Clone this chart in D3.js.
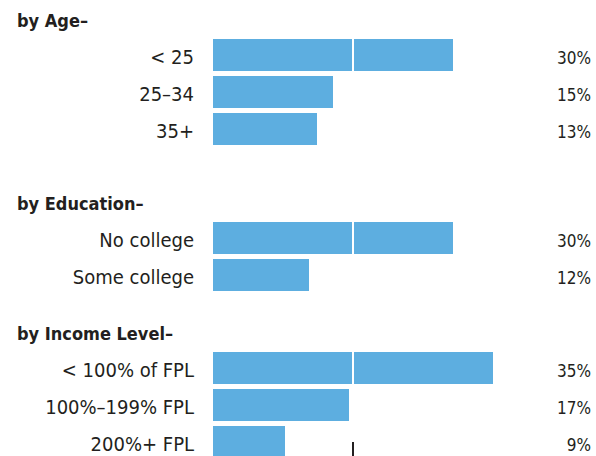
<!DOCTYPE html>
<html>
<head>
<meta charset="utf-8">
<script src="https://cdn.jsdelivr.net/npm/d3@7"></script>
<style>
  body { margin: 0; background: #fff; }
  text { font-family: "DejaVu Sans Condensed", "DejaVu Sans", sans-serif; font-stretch: condensed; fill: #231f20; }
</style>
</head>
<body>
<div id="chart"></div>
<script>
// data
var groupNames = ["by Age\u2013", "by Education\u2013", "by Income Level\u2013"];
var ageLabels = ["< 25", "25\u201334", "35+"];
var ageValues = [30, 15, 13];
var eduLabels = ["No college", "Some college"];
var eduValues = [30, 12];
var incomeLabels = ["< 100% of FPL", "100%\u2013199% FPL", "200%+ FPL"];
var incomeValues = [35, 17, 9];
var refValue = 17.5;

var groups = [
    {name: groupNames[0], labels: ageLabels, values: ageValues},
    {name: groupNames[1], labels: eduLabels, values: eduValues},
    {name: groupNames[2], labels: incomeLabels, values: incomeValues}
];

var width = 596, height = 456;
var headerY = [27, 210, 340];   // header baselines
var step = 37, barH = 32;

var svg = d3.select("#chart")
    .append("svg")
    .attr("width", width)
    .attr("height", height);

var x = d3.scaleLinear()
    .domain([0, 35])
    .range([213, 493]);

groups.forEach(function(g, gi) {
    var top = headerY[gi];
    var n = g.labels.length;

    var y = d3.scaleBand()
        .domain(g.labels)
        .range([top + 12, top + 12 + step * (n - 1) + barH])
        .paddingInner((step - barH) / step)
        .paddingOuter(0);

    svg.append("text")
        .attr("x", 17)
        .attr("y", top)
        .style("font-size", "18px")
        .style("font-weight", "bold")
        .text(g.name);

    var rows = svg.selectAll(".row" + gi)
        .data(g.labels.map(function(d, i) { return {label: d, value: g.values[i]}; }))
        .enter().append("g")
        .attr("class", "row" + gi);

    rows.append("rect")
        .attr("x", x(0))
        .attr("y", function(d) { return y(d.label); })
        .attr("width", function(d) { return x(d.value) - x(0); })
        .attr("height", y.bandwidth())
        .style("fill", "#5daee0");

    rows.append("text")
        .attr("x", 194)
        .attr("y", function(d) { return y(d.label) + y.bandwidth() / 2 + 9; })
        .style("text-anchor", "end")
        .style("font-size", "20px")
        .text(function(d) { return d.label; });

    rows.append("text")
        .attr("x", 591)
        .attr("y", function(d) { return y(d.label) + y.bandwidth() / 2 + 9; })
        .style("text-anchor", "end")
        .style("font-size", "17px")
        .text(function(d) { return d.value + "%"; });

    // white reference line through the bars
    rows.filter(function(d) { return d.value > refValue; })
        .append("line")
        .attr("x1", x(refValue))
        .attr("x2", x(refValue))
        .attr("y1", function(d) { return y(d.label); })
        .attr("y2", function(d) { return y(d.label) + y.bandwidth(); })
        .style("stroke", "#fff")
        .style("stroke-width", 2);
});

// dark tick at the bottom
svg.append("line")
    .attr("x1", x(refValue))
    .attr("x2", x(refValue))
    .attr("y1", 442)
    .attr("y2", height)
    .style("stroke", "#231f20")
    .style("stroke-width", 2);
</script>
</body>
</html>
